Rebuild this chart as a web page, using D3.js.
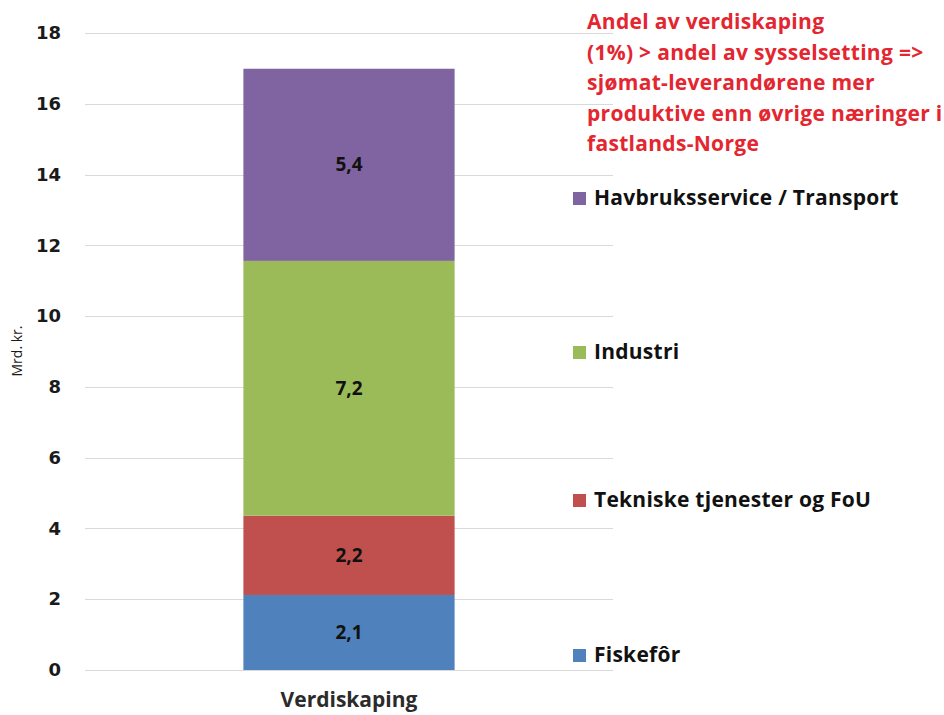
<!DOCTYPE html>
<html>
<head>
<meta charset="utf-8">
<script src="https://cdn.jsdelivr.net/npm/d3@7"></script>
<style>
  body { margin: 0; background: #fff; }
</style>
</head>
<body>
<div id="chart"></div>
<script>
// Stacked bar: verdiskaping per segment

var categories = ['Verdiskaping']
var series = ['Fiskefôr', 'Tekniske tjenester og FoU', 'Industri', 'Havbruksservice / Transport']
var values = [2.12, 2.24, 7.2, 5.43]
var colors = ['#4f81bd', '#c0504d', '#9bbb59', '#8064a2']
var yTicks = [0, 2, 4, 6, 8, 10, 12, 14, 16, 18]
var note = ['Andel av verdiskaping', '(1%) > andel av sysselsetting =>', 'sjømat-leverandørene mer', 'produktive enn øvrige næringer i', 'fastlands-Norge']

var width = 944, height = 715
var margin = {top: 33, right: 331, bottom: 45, left: 85}
var labelFont = 'Open Sans'

var stackData = series.map((s, i) => ({
  name: s, value: values[i], color: colors[i],
  y0: d3.sum(values.slice(0, i)), y1: d3.sum(values.slice(0, i + 1))
}))

var x = d3.scaleBand()
    .domain(categories)
    .range([margin.left, width - margin.right])
    .paddingInner(0.6)
    .paddingOuter(0.30)

var y = d3.scaleLinear()
    .domain([0, 18])
    .range([height - margin.bottom, margin.top])

const svg = d3.select('#chart')
  .append('svg')
    .attr('width', width)
    .attr('height', height)

// gridlines
svg.append('g')
  .selectAll('line')
  .data(yTicks)
  .join('line')
    .attr('x1', margin.left)
    .attr('x2', width - margin.right)
    .attr('y1', d => Math.round(y(d)) + 0.5)
    .attr('y2', d => Math.round(y(d)) + 0.5)
    .attr('stroke', '#d9d9d9')
    .attr('stroke-width', 1)

var yAxis = g => g
    .attr('transform', 'translate(' + (margin.left - 24) + ',0)')
    .call(d3.axisLeft(y).tickValues(yTicks).tickSize(0).tickPadding(0))
    .call(g => g.select('.domain').remove())
    .call(g => g.selectAll('text')
        .attr('font-family', 'DejaVu Sans')
        .attr('font-weight', 'bold')
        .attr('font-size', 18)
        .attr('fill', '#1a1a1a'))

svg.append('g').call(yAxis)

svg.append('text')
    .attr('transform', 'translate(22,351) rotate(-90)')
    .attr('text-anchor', 'middle')
    .attr('font-family', labelFont)
    .attr('font-size', 14)
    .attr('fill', '#1a1a1a')
    .text('Mrd. kr.')

var xAxis = g => g
    .attr('transform', 'translate(0,' + (height - margin.bottom) + ')')
    .call(d3.axisBottom(x).tickSize(0).tickPadding(22))
    .call(g => g.select('.domain').remove())
    .call(g => g.selectAll('text')
        .attr('font-family', labelFont)
        .attr('font-weight', 'bold')
        .attr('font-size', 21)
        .attr('fill', '#2b2b2b'))

svg.append('g').call(xAxis)

// bar segments
svg.append('g')
  .selectAll('rect')
  .data(stackData)
  .join('rect')
    .attr('x', x(categories[0]))
    .attr('width', x.bandwidth())
    .attr('y', d => y(d.y1))
    .attr('height', d => y(d.y0) - y(d.y1))
    .attr('fill', d => d.color)

svg.append('g')
  .selectAll('text')
  .data(stackData)
  .join('text')
    .attr('x', x(categories[0]) + x.bandwidth() / 2)
    .attr('y', d => y((d.y0 + d.y1) / 2))
    .attr('dy', '0.35em')
    .attr('text-anchor', 'middle')
    .attr('font-family', labelFont)
    .attr('font-weight', 'bold')
    .attr('font-size', 19)
    .attr('fill', '#111')
    .text(d => d3.format('.1f')(d.value).replace('.', ','))

// legend
var legendY = [655, 500, 352, 198]
const legend = svg.append('g')
  .selectAll('g')
  .data(stackData)
  .join('g')
    .attr('transform', (d, i) => 'translate(573,' + legendY[i] + ')')

legend.append('rect')
    .attr('x', 0)
    .attr('y', -6)
    .attr('width', 13)
    .attr('height', 13)
    .attr('fill', d => d.color)

legend.append('text')
    .attr('x', 21)
    .attr('dy', '0.35em')
    .attr('font-family', labelFont)
    .attr('font-weight', 'bold')
    .attr('font-size', 21)
    .attr('letter-spacing', 0.25)
    .attr('fill', '#111')
    .text(d => d.name)

// annotation
svg.append('g')
  .selectAll('text')
  .data(note)
  .join('text')
    .attr('x', 587)
    .attr('y', (d, i) => 22 + i * 30.5)
    .attr('dy', '0.35em')
    .attr('font-family', labelFont)
    .attr('font-weight', 'bold')
    .attr('font-size', 21)
    .attr('letter-spacing', 0.3)
    .attr('fill', '#e3262f')
    .text(d => d)
</script>
</body>
</html>
